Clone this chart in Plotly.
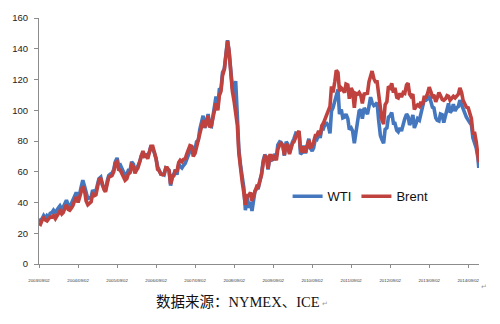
import pandas as pd
import plotly.graph_objects as go

# Half-monthly observations (2nd and 16th of each month), Sep 2003 - Dec 2014
wti = [
    # 2003 Sep-Dec
    29.5, 28.0, 29.5, 31.5, 29.8, 31.5, 30.5, 33.0,
    # 2004
    33.5, 35.0, 33.5, 35.5, 36.5, 37.8, 35.5, 37.0, 39.5, 41.5, 38.5, 37.5,
    39.5, 41.5, 44.0, 46.5, 43.5, 45.5, 50.5, 54.5, 50.5, 47.0, 42.5, 43.0,
    # 2005
    43.5, 48.0, 46.5, 47.5, 52.5, 55.5, 56.5, 51.5, 49.5, 47.5, 54.0, 57.5,
    58.5, 59.0, 61.5, 66.5, 69.0, 64.0, 64.5, 62.0, 60.0, 57.5, 58.5, 61.0,
    # 2006
    61.0, 66.5, 65.0, 60.0, 61.5, 63.5, 66.5, 70.5, 72.5, 69.5, 71.0, 70.5,
    73.0, 77.0, 75.0, 72.5, 68.5, 63.5, 61.0, 58.5, 58.5, 58.0, 62.5, 62.0,
    # 2007
    61.0, 51.0, 57.5, 58.5, 61.5, 58.0, 65.0, 63.5, 62.5, 64.0, 65.5, 68.0,
    71.5, 74.0, 76.5, 72.0, 74.5, 79.5, 80.5, 87.5, 93.5, 96.5, 88.5, 91.5,
    # 2008
    97.5, 90.0, 89.5, 95.5, 102.0, 109.0, 101.5, 113.5, 114.0, 124.5, 127.0, 135.5,
    145.5, 138.5, 121.5, 114.5, 109.5, 119.0, 96.0, 74.5, 63.5, 55.0, 49.5, 35.0,
    # 2009
    44.0, 36.5, 40.5, 34.5, 40.5, 47.5, 49.0, 49.5, 54.5, 58.5, 67.5, 71.0,
    69.5, 61.5, 69.5, 67.5, 68.0, 71.5, 70.0, 77.5, 79.5, 79.0, 77.0, 70.5,
    # 2010
    79.5, 78.0, 72.5, 77.5, 79.5, 81.5, 85.0, 84.5, 86.0, 71.5, 72.5, 77.0,
    72.0, 76.5, 81.5, 75.5, 73.5, 75.5, 81.5, 81.0, 84.5, 82.0, 88.5, 88.0,
    # 2011
    91.5, 91.5, 89.5, 85.0, 99.5, 101.5, 107.5, 109.5, 113.5, 97.5, 100.5, 95.0,
    95.5, 97.5, 94.5, 87.5, 88.5, 86.5, 78.5, 86.5, 92.5, 99.5, 100.5, 94.5,
    # 2012
    101.5, 99.0, 97.5, 102.5, 108.5, 105.0, 103.0, 103.5, 105.0, 94.0, 83.5, 81.0,
    78.5, 87.5, 88.5, 95.5, 96.5, 98.5, 91.5, 91.5, 87.0, 86.0, 88.5, 86.5,
    # 2013
    92.5, 94.5, 97.5, 96.0, 90.5, 92.5, 97.0, 88.5, 91.5, 94.5, 93.5, 97.5,
    101.5, 106.5, 106.5, 107.5, 108.5, 106.0, 102.0, 101.5, 95.0, 93.5, 93.0, 97.5,
    # 2014
    97.0, 92.0, 97.5, 100.5, 104.5, 98.5, 100.0, 104.0, 99.5, 101.5, 102.5, 106.5,
    104.0, 100.5, 98.0, 95.5, 93.0, 92.0, 90.5, 82.0, 78.5, 75.5, 69.0, 62.5,
]

brent = [
    # 2003 Sep-Dec
    26.5, 25.8, 28.5, 30.0, 28.5, 28.0, 29.5, 30.5,
    # 2004
    30.5, 31.5, 29.5, 31.5, 33.5, 34.5, 32.5, 33.5, 36.5, 38.5, 35.5, 35.0,
    36.5, 38.0, 41.5, 43.5, 40.0, 43.0, 46.5, 50.5, 47.5, 41.0, 38.5, 39.5,
    # 2005
    40.5, 45.5, 44.5, 45.0, 51.5, 54.5, 56.0, 51.5, 48.5, 47.0, 51.5, 56.5,
    57.0, 57.5, 60.0, 65.5, 66.5, 61.5, 61.0, 58.5, 56.5, 54.5, 55.5, 58.5,
    # 2006
    59.5, 64.5, 63.5, 59.0, 61.0, 62.5, 66.5, 71.0, 73.5, 70.0, 70.5, 68.5,
    72.5, 76.5, 76.5, 73.5, 68.5, 61.5, 60.5, 58.5, 58.0, 58.5, 62.5, 62.5,
    # 2007
    60.5, 52.0, 56.5, 57.5, 61.0, 60.0, 66.0, 67.5, 66.5, 68.0, 68.5, 71.5,
    74.5, 77.0, 76.5, 70.0, 72.0, 76.0, 79.0, 84.5, 89.5, 93.5, 89.0, 92.0,
    # 2008
    96.5, 89.0, 90.0, 95.0, 100.5, 104.5, 100.0, 109.5, 112.5, 122.5, 126.5, 133.5,
    145.0, 138.5, 119.5, 112.5, 105.5, 96.5, 90.0, 72.0, 60.5, 53.5, 46.0, 38.5,
    # 2009
    44.5, 44.5, 46.5, 41.0, 44.5, 47.5, 50.5, 50.0, 55.0, 58.0, 66.5, 70.0,
    69.5, 62.0, 70.5, 70.5, 68.5, 69.5, 67.5, 74.5, 77.5, 78.5, 77.0, 71.0,
    # 2010
    78.0, 77.0, 71.5, 75.0, 78.5, 79.5, 83.5, 85.0, 86.5, 75.0, 72.5, 76.5,
    72.5, 76.0, 80.5, 76.0, 76.5, 79.5, 83.5, 83.5, 86.5, 84.0, 90.0, 91.5,
    # 2011
    94.5, 97.5, 101.5, 102.5, 115.5, 111.5, 118.5, 126.0, 124.5, 112.5, 114.5, 113.5,
    111.5, 117.0, 116.5, 107.5, 114.5, 112.5, 101.5, 111.0, 110.5, 111.5, 109.5, 104.5,
    # 2012
    110.5, 110.5, 111.0, 118.5, 123.5, 125.5, 120.5, 118.5, 118.5, 111.5, 100.5, 94.0,
    91.0, 103.5, 105.5, 115.5, 114.5, 117.5, 111.5, 114.5, 108.5, 108.0, 111.0, 108.5,
    # 2013
    111.5, 111.0, 116.5, 117.5, 110.5, 109.0, 110.5, 100.5, 102.5, 103.5, 102.5, 105.5,
    103.5, 108.5, 108.5, 110.5, 115.0, 111.5, 109.0, 110.0, 105.5, 108.0, 111.5, 109.5,
    # 2014
    107.0, 106.5, 107.5, 109.5, 109.0, 106.5, 107.5, 109.0, 108.0, 109.5, 110.5, 114.5,
    111.5, 106.5, 104.5, 102.0, 101.5, 97.5, 94.5, 85.0, 85.0, 79.5, 71.0, 66.0,
]

# Observation dates: 2nd and 16th of each month, the last one on 10 Dec 2014
dates = []
for m in pd.date_range("2003-09-01", "2014-12-01", freq="MS"):
    dates.append(m + pd.Timedelta(days=1))
    dates.append(m + pd.Timedelta(days=15))
dates[-1] = pd.Timestamp("2014-12-10")

tick_dates = [f"{y}-09-02" for y in range(2003, 2015)]
tick_text = [f"{y}/09/02" for y in range(2003, 2015)]
y_ticks = [0, 20, 40, 60, 80, 100, 120, 140, 160]

series_names = ["WTI", "Brent"]
series_colors = ["#4477BE", "#C0423F"]

fig = go.Figure()
for name, vals, col in zip(series_names, [wti, brent], series_colors):
    fig.add_trace(go.Scatter(
        x=dates, y=vals, name=name, mode="lines",
        line=dict(color=col, width=3.6),
    ))

axis_grey = "#8C8C8C"
fig.update_layout(
    width=500, height=324,
    margin=dict(l=33, r=21, t=16, b=60),
    paper_bgcolor="white", plot_bgcolor="white",
    font=dict(family="Liberation Sans, Arial, sans-serif", color="#222222"),
    showlegend=True,
    legend=dict(
        orientation="h", x=0.565, y=0.275, xanchor="left", yanchor="middle",
        font=dict(size=13, color="#111111"), bgcolor="rgba(0,0,0,0)",
        itemwidth=30, tracegroupgap=0,
    ),
    xaxis=dict(
        type="date", range=["2003-09-02", "2014-12-12"],
        tickvals=tick_dates, ticktext=tick_text, tickangle=0,
        tickfont=dict(size=4.3, color="#333333"),
        ticks="outside", ticklen=3, tickcolor=axis_grey,
        showline=True, linecolor=axis_grey, linewidth=1,
        showgrid=False, zeroline=False, ticklabelstandoff=9,
    ),
    yaxis=dict(
        range=[0, 160], tickvals=y_ticks,
        tickfont=dict(size=9.5, color="#222222"),
        ticks="outside", ticklen=4, tickcolor=axis_grey,
        showline=True, linecolor=axis_grey, linewidth=1,
        showgrid=False, zeroline=False, ticklabelstandoff=4,
    ),
)

# Source note under the chart
fig.add_annotation(
    xref="paper", yref="paper", x=(235 - 33) / 446, y=(264 - 302) / 248,
    text="数据来源：NYMEX、ICE", showarrow=False,
    font=dict(family="Liberation Serif, Noto Sans CJK SC, serif", size=14.5, color="#111111"),
    xanchor="center", yanchor="middle",
)
for px, py in [(323, 304), (484, 287)]:
    fig.add_annotation(
        xref="paper", yref="paper", x=(px - 33) / 446, y=(264 - py) / 248,
        text="↵", showarrow=False,
        font=dict(family="DejaVu Sans", size=7, color="#9A9A9A"),
        xanchor="center", yanchor="middle",
    )

fig.write_html("out.html")
